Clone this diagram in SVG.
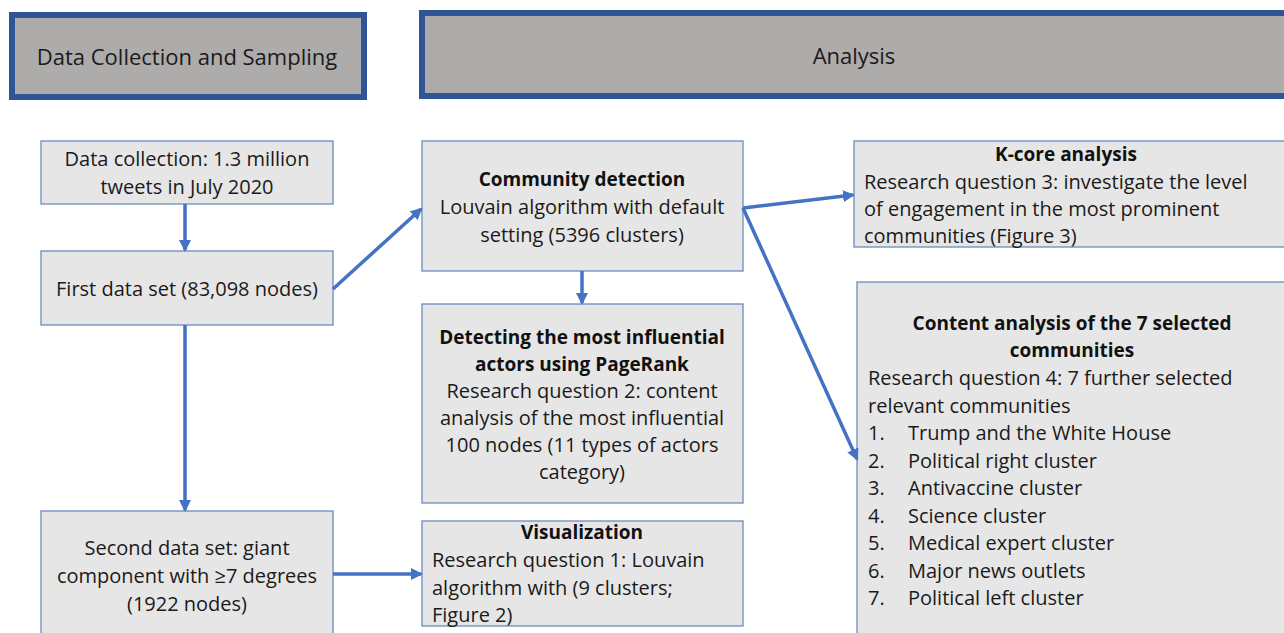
<svg xmlns="http://www.w3.org/2000/svg" width="1284" height="633" viewBox="0 0 1284 633">
<defs>
<marker id="ah" markerWidth="12" markerHeight="12" refX="10" refY="6" orient="auto" markerUnits="userSpaceOnUse">
<path d="M0,0 L12,6 L0,12 z" fill="#4472C4"/>
</marker>
<style>
.hdr{fill:#AEABAB;stroke:#2F5597;stroke-width:6}
.box{fill:#E7E6E6;stroke:#6A8AC0;stroke-width:1.3}
.t{font-family:"Open Sans","Liberation Sans",sans-serif;font-size:20px;fill:#1a1a1a}
.h{font-family:"Open Sans","Liberation Sans",sans-serif;font-size:22px;fill:#1a1a1a}
.b{font-family:"Open Sans","Liberation Sans",sans-serif;font-size:19px;font-weight:bold;fill:#111}
.c{text-anchor:middle}
.con{stroke:#4472C4;stroke-width:3.5;fill:none;marker-end:url(#ah)}
</style>
</defs>
<rect width="1284" height="633" fill="#ffffff"/>
<g id="hdr-collection">
<rect class="hdr" x="12" y="15" width="352" height="82"/>
<text class="h c" x="187" y="65">Data Collection and Sampling</text>
</g>
<g id="hdr-analysis">
<rect class="hdr" x="422" y="13" width="880" height="83"/>
<text class="h c" x="854" y="64">Analysis</text>
</g>
<g id="n-collect">
<rect class="box" x="41" y="141" width="292" height="63"/>
<text class="t c" x="187" y="166">Data collection: 1.3 million</text>
<text class="t c" x="187" y="194">tweets in July 2020</text>
</g>
<g id="n-first">
<rect class="box" x="41" y="251" width="292" height="74"/>
<text class="t c" x="187" y="296">First data set (83,098 nodes)</text>
</g>
<g id="n-second">
<rect class="box" x="41" y="511" width="292" height="130"/>
<text class="t c" x="187" y="555">Second data set: giant</text>
<text class="t c" x="187" y="583">component with ≥7 degrees</text>
<text class="t c" x="187" y="611">(1922 nodes)</text>
</g>
<g id="n-community">
<rect class="box" x="422" y="141" width="321" height="130"/>
<text class="b c" x="582" y="186">Community detection</text>
<text class="t c" x="582" y="214">Louvain algorithm with default</text>
<text class="t c" x="582" y="242">setting (5396 clusters)</text>
</g>
<g id="n-pagerank">
<rect class="box" x="422" y="304" width="321" height="199"/>
<text class="b c" x="582" y="344">Detecting the most influential</text>
<text class="b c" x="582" y="371">actors using PageRank</text>
<text class="t c" x="582" y="398">Research question 2: content</text>
<text class="t c" x="582" y="425">analysis of the most influential</text>
<text class="t c" x="582" y="452">100 nodes (11 types of actors</text>
<text class="t c" x="582" y="479">category)</text>
</g>
<g id="n-vis">
<rect class="box" x="422" y="521" width="321" height="105"/>
<text class="b c" x="582" y="539">Visualization</text>
<text class="t" x="432" y="567">Research question 1: Louvain</text>
<text class="t" x="432" y="595">algorithm with (9 clusters;</text>
<text class="t" x="432" y="622">Figure 2)</text>
</g>
<g id="n-kcore">
<rect class="box" x="854" y="141" width="440" height="106"/>
<text class="b c" x="1066" y="161">K-core analysis</text>
<text class="t" x="864" y="189">Research question 3: investigate the level</text>
<text class="t" x="864" y="216">of engagement in the most prominent</text>
<text class="t" x="864" y="243">communities (Figure 3)</text>
</g>
<g id="n-content">
<rect class="box" x="857" y="282" width="440" height="360"/>
<text class="b c" x="1072" y="330">Content analysis of the 7 selected</text>
<text class="b c" x="1072" y="357">communities</text>
<text class="t" x="868" y="385">Research question 4: 7 further selected</text>
<text class="t" x="868" y="413">relevant communities</text>
<text class="t" x="868" y="440">1.</text><text class="t" x="908" y="440">Trump and the White House</text>
<text class="t" x="868" y="468">2.</text><text class="t" x="908" y="468">Political right cluster</text>
<text class="t" x="868" y="495">3.</text><text class="t" x="908" y="495">Antivaccine cluster</text>
<text class="t" x="868" y="523">4.</text><text class="t" x="908" y="523">Science cluster</text>
<text class="t" x="868" y="550">5.</text><text class="t" x="908" y="550">Medical expert cluster</text>
<text class="t" x="868" y="578">6.</text><text class="t" x="908" y="578">Major news outlets</text>
<text class="t" x="868" y="605">7.</text><text class="t" x="908" y="605">Political left cluster</text>
</g>
<g id="connectors">
<line class="con" x1="185" y1="204" x2="185" y2="250"/>
<line class="con" x1="185" y1="325" x2="185" y2="510"/>
<line class="con" x1="333" y1="289" x2="421" y2="209"/>
<line class="con" x1="582" y1="271" x2="582" y2="303"/>
<line class="con" x1="743" y1="208" x2="853" y2="195"/>
<line class="con" x1="743" y1="208" x2="857" y2="459"/>
<line class="con" x1="333" y1="574" x2="421" y2="574"/>
</g>
</svg>
